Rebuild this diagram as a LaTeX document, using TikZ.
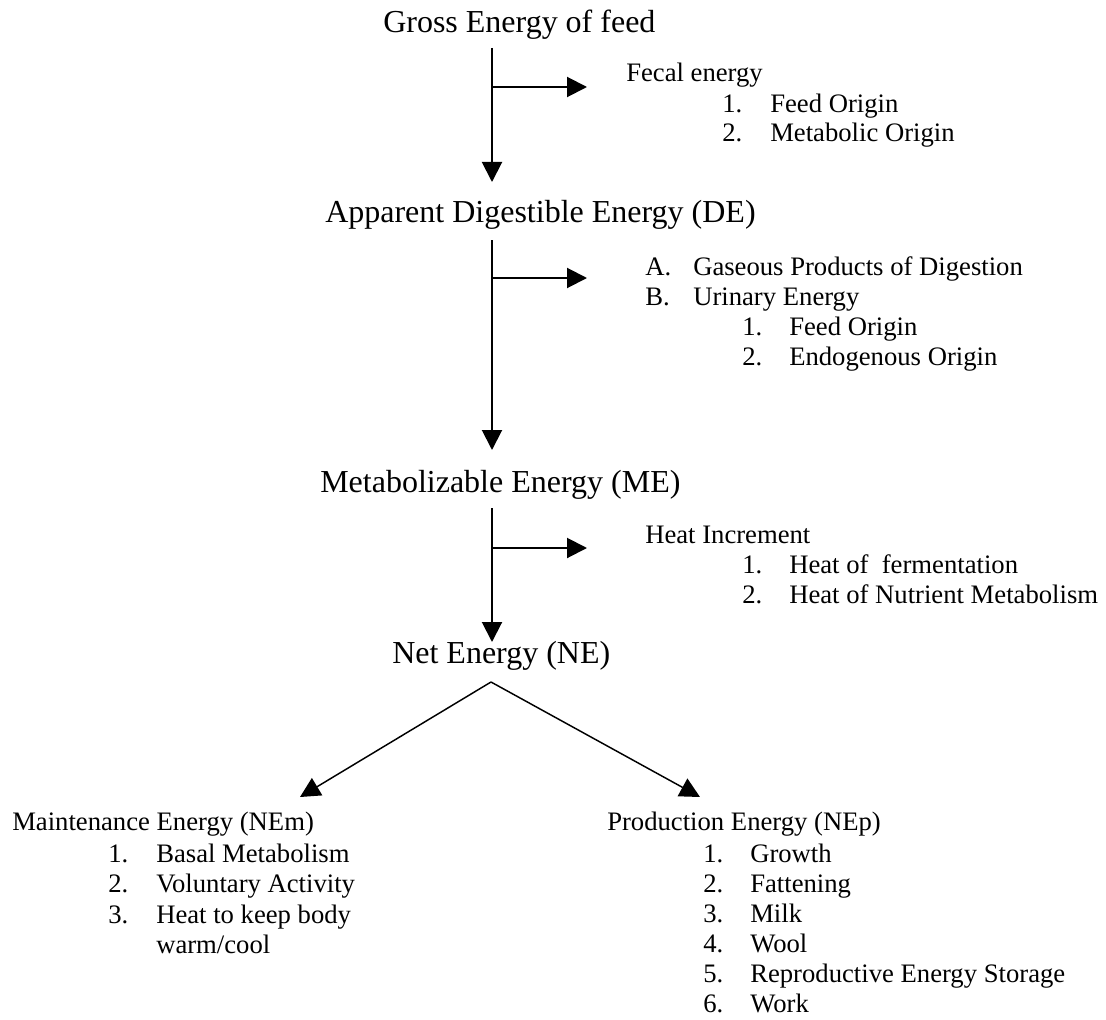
\documentclass[tikz,border=0pt]{standalone}
\usepackage{fontspec}
\setmainfont{Liberation Serif}
\usetikzlibrary{arrows.meta}

\begin{document}
\begin{tikzpicture}[x=0.75pt,y=-0.75pt,>={Triangle[length=15pt,width=15pt]},
  flow/.style={->,line width=1.5pt},
  split/.style={->,line width=1.1pt},
  stage/.style={anchor=base west,inner sep=0pt,font=\fontsize{24}{28}\selectfont},
  loss/.style={anchor=base west,inner sep=0pt,font=\fontsize{20}{24}\selectfont}]
  \useasboundingbox (0,0) rectangle (1106,1020);
  % energy stages
  \node[stage] (ge) at (383,33)  {Gross Energy of feed};
  \node[stage] (de) at (325,222) {Apparent Digestible Energy (DE)};
  \node[stage] (me) at (320,492) {Metabolizable Energy (ME)};
  \node[stage] (ne) at (392,663) {Net Energy (NE)};
  % arrow ends
  \coordinate (geOut) at (492,48);  \coordinate (deIn) at (492,182);
  \coordinate (deOut) at (492,240); \coordinate (meIn) at (492,450);
  \coordinate (meOut) at (492,508); \coordinate (neIn) at (492,642);
  \coordinate (fecB) at (492,87);   \coordinate (fecT) at (587,87);
  \coordinate (uriB) at (492,278);  \coordinate (uriT) at (587,278);
  \coordinate (hiB) at (492,548);   \coordinate (hiT) at (587,548);
  \coordinate (neOut) at (491,682);
  \coordinate (nemIn) at (300,797); \coordinate (nepIn) at (700,797);
  \draw[flow] (geOut) -- (deIn);
  \draw[flow] (fecB) -- (fecT);
  \draw[flow] (deOut) -- (meIn);
  \draw[flow] (uriB) -- (uriT);
  \draw[flow] (meOut) -- (neIn);
  \draw[flow] (hiB) -- (hiT);
  \draw[split] (neOut) -- (nemIn);
  \draw[split] (neOut) -- (nepIn);
  % fecal losses
  \node[loss] (fec) at (626,82) {Fecal energy};
  \foreach \n/\txt/\y in {1/Feed Origin/113,2/Metabolic Origin/142}{
    \node[loss] (fecn\n) at (722,\y) {\n.};
    \node[loss] (fect\n) at (770,\y) {\txt};
  }
  % gas and urine losses
  \node[loss] (gasA) at (645,275) {A.};
  \node[loss] (gas) at (693,275) {Gaseous Products of Digestion};
  \node[loss] (uriA) at (645,305) {B.};
  \node[loss] (uri) at (693,305) {Urinary Energy};
  \foreach \n/\txt/\y in {1/Feed Origin/335,2/Endogenous Origin/365}{
    \node[loss] (urin\n) at (742,\y) {\n.};
    \node[loss] (urit\n) at (789,\y) {\txt};
  }
  % heat increment
  \node[loss] (hi) at (645,543) {Heat Increment};
  \foreach \n/\txt/\y in {1/Heat of\ \ fermentation/573,2/Heat of Nutrient Metabolism/603}{
    \node[loss] (hin\n) at (742,\y) {\n.};
    \node[loss] (hit\n) at (789,\y) {\txt};
  }
  % maintenance
  \node[loss] (nem) at (12,830) {Maintenance Energy (NEm)};
  \foreach \n/\txt/\y in {1/Basal Metabolism/862,2/Voluntary Activity/892,3/Heat to keep body/923}{
    \node[loss] (nemn\n) at (108,\y) {\n.};
    \node[loss] (nemt\n) at (156,\y) {\txt};
  }
  \node[loss] (nemt4) at (156,953) {warm/cool};
  % production
  \node[loss] (nep) at (607,830) {Production Energy (NEp)};
  \foreach \n/\txt/\y in {1/Growth/862,2/Fattening/892,3/Milk/922,4/Wool/952,5/Reproductive Energy Storage/982,6/Work/1012}{
    \node[loss] (nepn\n) at (703,\y) {\n.};
    \node[loss] (nept\n) at (750,\y) {\txt};
  }
\end{tikzpicture}
\end{document}
